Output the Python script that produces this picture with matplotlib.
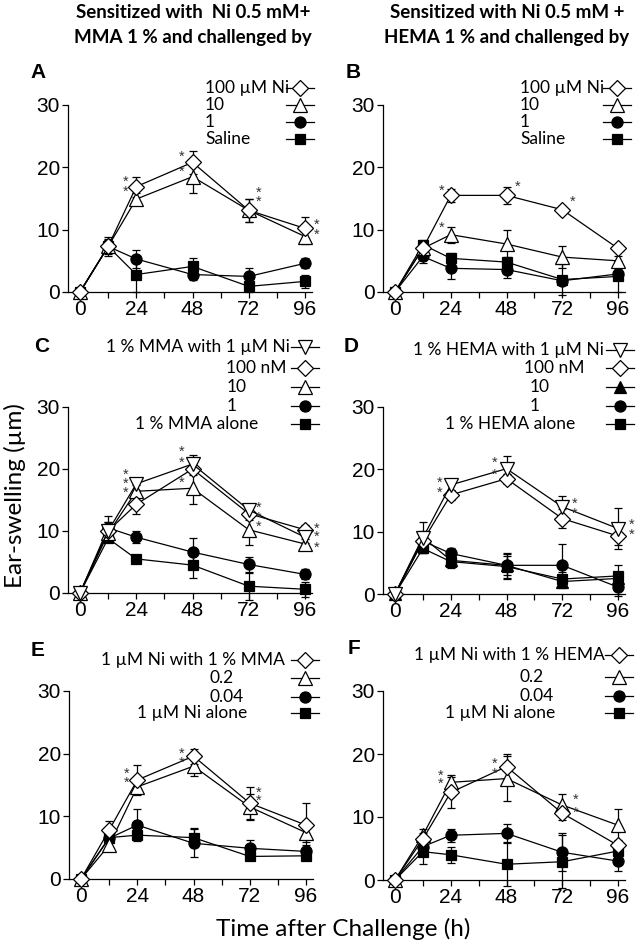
import matplotlib
matplotlib.use('Agg')
import matplotlib.pyplot as plt
from matplotlib.lines import Line2D

hours = [0, 12, 24, 48, 72, 96]

# A: sensitized Ni + MMA, challenged by Ni
a_ni100 = [0, 7.3, 16.9, 20.8, 13.1, 10.2]
a_ni100_err = [0, 1.0, 1.6, 1.9, 1.8, 1.8]
a_ni10 = [0, 7.3, 14.9, 18.5, 13.1, 8.9]
a_ni10_err = [0, 1.0, 1.0, 2.6, 1.8, 1.2]
a_ni1 = [0, 7.3, 5.3, 2.8, 2.5, 4.6]
a_ni1_err = [0, 1.2, 1.5, 0.8, 1.4, 0.8]
a_saline = [0, 7.3, 2.8, 4.1, 0.9, 1.7]
a_saline_err = [0, 1.5, 2.8, 1.3, 0.9, 1.0]

# B: sensitized Ni + HEMA, challenged by Ni
b_ni100 = [0, 7.0, 15.5, 15.5, 13.2, 7.0]
b_ni100_err = [0, 1.0, 1.1, 1.4, 0.6, 0.5]
b_ni10 = [0, 7.0, 9.2, 7.7, 5.6, 5.0]
b_ni10_err = [0, 1.0, 1.3, 2.3, 1.7, 0.8]
b_ni1 = [0, 5.7, 3.8, 3.6, 1.8, 2.9]
b_ni1_err = [0, 1.0, 1.7, 1.3, 0.5, 0.8]
b_saline = [0, 7.6, 5.4, 4.8, 2.0, 2.5]
b_saline_err = [0, 0.8, 0.8, 0.8, 2.5, 2.5]

# C: challenged by 1 % MMA with Ni
c_ni1uM = [0, 10.0, 17.6, 20.8, 13.4, 9.0]
c_ni1uM_err = [0, 1.5, 1.0, 1.5, 1.0, 1.0]
c_ni100nM = [0, 10.0, 14.3, 20.0, 12.8, 10.2]
c_ni100nM_err = [0, 1.5, 1.6, 1.0, 1.0, 0.8]
c_ni10nM = [0, 9.6, 16.4, 16.9, 10.2, 7.9]
c_ni10nM_err = [0, 1.0, 1.0, 2.5, 2.5, 0.8]
c_ni1nM = [0, 10.5, 9.0, 6.6, 4.6, 3.0]
c_ni1nM_err = [0, 1.9, 1.0, 2.2, 1.2, 0.8]
c_alone = [0, 8.8, 5.5, 4.5, 1.1, 0.6]
c_alone_err = [0, 0.5, 0.4, 2.0, 2.2, 1.2]

# D: challenged by 1 % HEMA with Ni
d_ni1uM = [0, 9.0, 17.5, 20.1, 14.0, 10.5]
d_ni1uM_err = [0, 2.5, 1.0, 2.0, 1.8, 3.3]
d_ni100nM = [0, 8.5, 15.9, 18.5, 12.1, 9.3]
d_ni100nM_err = [0, 1.0, 0.8, 0.8, 1.5, 1.5]
d_ni10nM = [0, 9.1, 5.4, 4.6, 2.0, 2.5]
d_ni10nM_err = [0, 1.0, 0.8, 1.5, 1.0, 1.0]
d_ni1nM = [0, 8.5, 6.5, 4.6, 4.6, 1.1]
d_ni1nM_err = [0, 1.0, 0.8, 2.0, 3.5, 1.5]
d_alone = [0, 7.3, 5.2, 4.4, 2.4, 2.9]
d_alone_err = [0, 0.8, 1.0, 2.0, 1.2, 1.8]

# E: challenged by 1 uM Ni with MMA
e_mma1 = [0, 7.8, 15.8, 19.6, 12.1, 8.6]
e_mma1_err = [0, 1.5, 2.4, 1.2, 2.6, 3.5]
e_mma02 = [0, 5.4, 14.7, 18.0, 11.5, 7.4]
e_mma02_err = [0, 0.8, 1.0, 1.6, 2.1, 1.5]
e_mma004 = [0, 6.5, 8.6, 5.7, 4.9, 4.4]
e_mma004_err = [0, 0.8, 2.5, 2.2, 1.4, 1.0]
e_alone = [0, 6.6, 7.0, 6.6, 3.6, 3.7]
e_alone_err = [0, 0.6, 0.8, 1.5, 0.5, 0.5]

# F: challenged by 1 uM Ni with HEMA
f_hema1 = [0, 6.5, 13.9, 18.0, 10.6, 5.5]
f_hema1_err = [0, 1.0, 2.4, 2.0, 1.0, 0.8]
f_hema02 = [0, 7.1, 15.5, 16.1, 11.9, 8.7]
f_hema02_err = [0, 1.0, 1.2, 3.6, 1.8, 2.5]
f_hema004 = [0, 5.3, 7.1, 7.4, 4.4, 3.0]
f_hema004_err = [0, 1.0, 1.0, 1.5, 3.0, 1.5]
f_alone = [0, 4.5, 4.0, 2.5, 2.9, 4.6]
f_alone_err = [0, 2.0, 1.3, 3.5, 4.2, 1.0]

# significance stars (hour, value)
stars_a = [(19.6, 17.7), (19.6, 16.1), (43.4, 21.7), (43.4, 19.3),
           (76.1, 15.9), (76.1, 14.5), (101, 10.8), (101, 9.2)]
stars_b = [(19.9, 16.3), (19.9, 10.3), (52.6, 16.8), (76.6, 14.4)]
stars_c = [(19.6, 19.1), (19.6, 17.6), (19.6, 16.1), (43.4, 22.8), (43.4, 21.0),
           (43.4, 17.8), (76.1, 13.7), (76.1, 12.1), (76.1, 10.6),
           (101, 10.3), (101, 9.0), (101, 7.3)]
stars_d = [(19.4, 17.8), (19.4, 16.2), (43.1, 21.1), (43.1, 19.1),
           (77.2, 14.4), (77.2, 12.9), (102, 11.1), (102, 9.5)]
stars_e = [(19.3, 16.8), (19.3, 15.3), (42.8, 20.0), (42.8, 18.6),
           (76.0, 13.8), (76.0, 12.5)]
stars_f = [(19.8, 16.6), (19.8, 15.2), (43.1, 18.5), (43.1, 16.9),
           (77.6, 12.7), (77.6, 10.6)]

W, H = 637, 942
fig = plt.figure(figsize=(W / 100, H / 100), dpi=100)

NUM_FONT = 'Liberation Sans'
TXT_FONT = 'Lato'

mk = {
    'diamond': dict(marker='D', ms=8.5, mfc='white'),
    'tri': dict(marker='^', ms=10, mfc='white'),
    'tridown': dict(marker='v', ms=10, mfc='white'),
    'tri_f': dict(marker='^', ms=9, mfc='black'),
    'circle': dict(marker='o', ms=8, mfc='black'),
    'square': dict(marker='s', ms=7, mfc='black'),
}


def make_axes(x0, x96, top, bottom):
    ppx = (x96 - x0) / 96.0
    l = x0 - 5 * ppx
    r = x0 + 99 * ppx
    ax = fig.add_axes([l / W, 1 - bottom / H, (r - l) / W, (bottom - top) / H])
    ax.patch.set_alpha(0)
    ax.set_xlim(-5, 99)
    ax.set_ylim(0, 30)
    for s in ['top', 'right']:
        ax.spines[s].set_visible(False)
    for s in ['left', 'bottom']:
        ax.spines[s].set_linewidth(0.9)
    ax.set_xticks([0, 24, 48, 72, 96])
    ax.set_xticks([12, 36, 60, 84], minor=True)
    ax.set_yticks([0, 10, 20, 30])
    ax.tick_params(which='both', direction='out', length=4, width=0.9,
                   labelsize=15, pad=2)
    for lab in ax.get_xticklabels() + ax.get_yticklabels():
        lab.set_fontfamily(NUM_FONT)
    return ax


def draw_series(ax, series):
    # series: list of (values, errors, style)
    for vals, errs, style in series:
        ax.errorbar(hours, vals, yerr=errs, fmt='none', ecolor='black',
                    elinewidth=0.9, capsize=3, capthick=0.9, clip_on=False, zorder=2)
    for vals, errs, style in series:
        ax.plot(hours, vals, color='black', lw=0.9, mec='black', mew=0.9,
                clip_on=False, zorder=3, **mk[style])


def draw_stars(ax, stars):
    for x, y in stars:
        ax.text(x, y, '*', ha='center', va='center', fontsize=10.5,
                color='#333333', family=NUM_FONT)


ov = fig.add_axes([0, 0, 1, 1])
ov.set_zorder(10)
ov.set_xlim(0, W)
ov.set_ylim(H, 0)
ov.axis('off')


def draw_key(rows, ys, key_x):
    for (label, style, tx, ha), y in zip(rows, ys):
        ov.add_line(Line2D([key_x - 14, key_x + 14], [y, y], color='black', lw=0.9))
        ov.plot([key_x], [y], color='black', mec='black', mew=0.9, **mk[style])
        ov.text(tx, y, label, ha=ha, va='center', fontsize=12.5, family=TXT_FONT)


# panel A
axA = make_axes(80, 305, 105, 292)
draw_series(axA, [(a_saline, a_saline_err, 'square'), (a_ni1, a_ni1_err, 'circle'),
                  (a_ni10, a_ni10_err, 'tri'), (a_ni100, a_ni100_err, 'diamond')])
draw_stars(axA, stars_a)
draw_key([('100 µM Ni', 'diamond', 205, 'left'), ('10', 'tri', 205, 'left'),
          ('1', 'circle', 205, 'left'), ('Saline', 'square', 205, 'left')],
         [88, 105, 122, 139], 300)

# panel B
axB = make_axes(395, 618, 105, 292)
draw_series(axB, [(b_saline, b_saline_err, 'square'), (b_ni1, b_ni1_err, 'circle'),
                  (b_ni10, b_ni10_err, 'tri'), (b_ni100, b_ni100_err, 'diamond')])
draw_stars(axB, stars_b)
draw_key([('100 µM Ni', 'diamond', 520, 'left'), ('10', 'tri', 520, 'left'),
          ('1', 'circle', 520, 'left'), ('Saline', 'square', 520, 'left')],
         [88, 105, 122, 139], 617)

# panel C
axC = make_axes(80, 305, 407, 593)
draw_series(axC, [(c_alone, c_alone_err, 'square'), (c_ni1nM, c_ni1nM_err, 'circle'),
                  (c_ni10nM, c_ni10nM_err, 'tri'), (c_ni100nM, c_ni100nM_err, 'diamond'),
                  (c_ni1uM, c_ni1uM_err, 'tridown')])
draw_stars(axC, stars_c)
draw_key([('1 % MMA with 1 µM Ni', 'tridown', 290, 'right'),
          ('100 nM', 'diamond', 287, 'right'), ('10', 'tri', 227, 'left'),
          ('1', 'circle', 227, 'left'), ('1 % MMA alone', 'square', 258, 'right')],
         [347, 368, 387, 406, 424], 305)

# panel D
axD = make_axes(395, 618, 407, 594)
draw_series(axD, [(d_alone, d_alone_err, 'square'), (d_ni1nM, d_ni1nM_err, 'circle'),
                  (d_ni10nM, d_ni10nM_err, 'tri_f'), (d_ni100nM, d_ni100nM_err, 'diamond'),
                  (d_ni1uM, d_ni1uM_err, 'tridown')])
draw_stars(axD, stars_d)
draw_key([('1 % HEMA with 1 µM Ni', 'tridown', 604, 'right'),
          ('100 nM', 'diamond', 585, 'right'), ('10', 'tri_f', 530, 'left'),
          ('1', 'circle', 530, 'left'), ('1 % HEMA alone', 'square', 575, 'right')],
         [350, 368, 387, 406, 424], 620)

# panel E
axE = make_axes(81, 306, 691, 879)
draw_series(axE, [(e_alone, e_alone_err, 'square'), (e_mma004, e_mma004_err, 'circle'),
                  (e_mma02, e_mma02_err, 'tri'), (e_mma1, e_mma1_err, 'diamond')])
draw_stars(axE, stars_e)
draw_key([('1 µM Ni with 1 % MMA', 'diamond', 285, 'right'),
          ('0.2', 'tri', 210, 'left'), ('0.04', 'circle', 210, 'left'),
          ('1 µM Ni alone', 'square', 247, 'right')],
         [660, 678, 697, 713], 305)

# panel F
axF = make_axes(395, 618, 691, 880)
draw_series(axF, [(f_alone, f_alone_err, 'square'), (f_hema004, f_hema004_err, 'circle'),
                  (f_hema02, f_hema02_err, 'tri'), (f_hema1, f_hema1_err, 'diamond')])
draw_stars(axF, stars_f)
draw_key([('1 µM Ni with 1 % HEMA', 'diamond', 605, 'right'),
          ('0.2', 'tri', 520, 'left'), ('0.04', 'circle', 520, 'left'),
          ('1 µM Ni alone', 'square', 555, 'right')],
         [655, 677, 696, 713], 619)

# panel letters
for letter, x, y in [('A', 38, 72), ('B', 353, 72), ('C', 42, 346),
                     ('D', 351, 346), ('E', 38, 651), ('F', 354, 649)]:
    ov.text(x, y, letter, ha='center', va='center', fontsize=15,
            fontweight='bold', family=NUM_FONT)

# column headers
ov.text(193, 12, 'Sensitized with  Ni 0.5 mM+', ha='center', va='center',
        fontsize=13.5, fontweight='bold', family=TXT_FONT)
ov.text(193, 38, 'MMA 1 % and challenged by', ha='center', va='center',
        fontsize=13.5, fontweight='bold', family=TXT_FONT)
ov.text(507, 12, 'Sensitized with Ni 0.5 mM +', ha='center', va='center',
        fontsize=13.5, fontweight='bold', family=TXT_FONT)
ov.text(507, 38, 'HEMA 1 % and challenged by', ha='center', va='center',
        fontsize=13.5, fontweight='bold', family=TXT_FONT)

# axis titles
ov.text(15, 496, 'Ear-swelling (µm)', ha='center', va='center', rotation=90,
        fontsize=17.5, family=TXT_FONT)
ov.text(343, 929, 'Time after Challenge (h)', ha='center', va='center',
        fontsize=17.5, family=TXT_FONT)

fig.savefig('out.png', dpi=100)
